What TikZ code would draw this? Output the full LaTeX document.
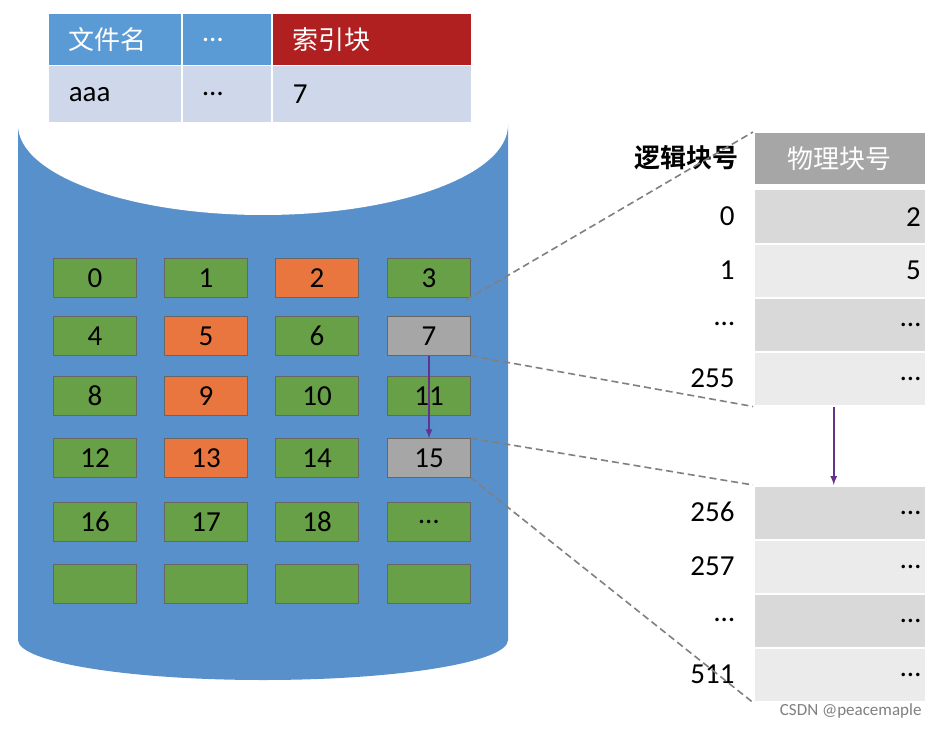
\documentclass[tikz,border=0pt]{standalone}
\usepackage{fontspec}
\setmainfont{Carlito}
\newfontfamily\cjk{Noto Sans CJK SC}
\newfontfamily\cjkb{Noto Sans CJK SC Bold}
\begin{document}
\begin{tikzpicture}[x=1pt,y=-1pt,
 hdr/.style={draw=white,line width=1.5pt,text=white,font=\cjk\fontsize{26}{26}\selectfont,anchor=north west,inner sep=0pt},
 cell/.style={draw=white,line width=1.5pt,font=\fontsize{29}{29}\selectfont,anchor=north west,inner sep=0pt},
 blk/.style={draw=black!60,line width=0.5pt,minimum width=83pt,minimum height=39pt,inner sep=0pt,font=\fontsize{29}{29}\selectfont},
 dl/.style={gray,line width=1.6pt,dash pattern=on 7pt off 4pt},
 pa/.style={-latex,draw={rgb,255:red,100;green,50;blue,140},line width=2pt}]
\definecolor{cyl}{RGB}{88,144,204}
\definecolor{gr}{RGB}{104,160,72}
\definecolor{orn}{RGB}{232,118,62}
\definecolor{gry}{RGB}{166,166,166}
\definecolor{hb}{RGB}{91,155,213}
\definecolor{hr}{RGB}{176,32,32}
\definecolor{rb}{RGB}{207,216,234}
\useasboundingbox[fill=white] (0,0) rectangle (939,730);
% cylinder
\fill[cyl] (18,125) -- (18,640) arc[start angle=180,end angle=0,x radius=245,y radius=40] -- (508,125) -- cycle;
\fill[white] (263,125) ellipse[x radius=245,y radius=90];
% top table
\node[hdr,fill=hb,minimum width=134pt,minimum height=52pt,text width=120pt,align=left] (h1) at (47,13) {\hspace*{14pt}文件名};
\node[hdr,fill=hb,minimum width=90pt,minimum height=52pt,text width=76pt,align=left,font=\fontsize{29}{29}\selectfont] (h2) at (181,13) {\hspace*{14pt}…};
\node[hdr,fill=hr,minimum width=200pt,minimum height=52pt,text width=186pt,align=left] (h3) at (271,13) {\hspace*{14pt}索引块};
\node[cell,fill=rb,minimum width=134pt,minimum height=57pt,text width=120pt,align=left] (r1) at (47,65) {\hspace*{14pt}aaa};
\node[cell,fill=rb,minimum width=90pt,minimum height=57pt,text width=76pt,align=left] (r2) at (181,65) {\hspace*{14pt}…};
\node[cell,fill=rb,minimum width=200pt,minimum height=57pt,text width=186pt,align=left] (r3) at (271,65) {\hspace*{14pt}7};
% blocks
\foreach \t/\c/\x/\y in {0/gr/95/278,1/gr/206/278,2/orn/317/278,3/gr/429/278,
 4/gr/95/336,5/orn/206/336,6/gr/317/336,7/gry/429/336,
 8/gr/95/396,9/orn/206/396,10/gr/317/396,11/gr/429/396,
 12/gr/95/458,13/orn/206/458,14/gr/317/458,15/gry/429/458,
 16/gr/95/522,17/gr/206/522,18/gr/317/522,{…}/gr/429/522,
 {}/gr/95/584,{}/gr/206/584,{}/gr/317/584,{}/gr/429/584}
 \node[blk,fill=\c] (b\x-\y) at (\x,\y) {\t};
% right table
\node[font=\cjkb\fontsize{26}{26}\selectfont,anchor=east] (lh) at (742,158) {逻辑块号};
\node[hdr,fill=gry,minimum width=172pt,minimum height=52pt] (ph) at (753,132) {物理块号};
\foreach \l/\v/\y/\c in {0/2/189/black!15,1/5/243/black!8,…/…/297/black!15,255/…/351/black!8,
 256/…/485/black!15,257/…/539/black!8,…/…/593/black!15,511/…/647/black!8}{
 \node[cell,fill=\c,minimum width=172pt,minimum height=54pt,text width=162pt,align=right] (p\y) at (753,\y) {\v};
 \node[font=\fontsize{29}{29}\selectfont,anchor=east] (l\y) at (738,\y+27) {\l};
}
% connectors
\coordinate (c7tr) at (466,300);
\draw[dl] (c7tr) -- (ph.north west);
\draw[dl] (b429-336.south east) -- (p351.south west);
\draw[dl] (b429-458.north east) -- (p485.north west);
\draw[dl] (b429-458.south east) -- (p647.south west);
\draw[pa] (b429-336.south) -- (b429-458.north);
\draw[pa] ([xshift=-6pt]p351.south) -- ([xshift=-6pt]p485.north);
\node[text=gray,font=\fontsize{17}{17}\selectfont,anchor=south east] (wm) at (925,722) {CSDN @peacemaple};
\end{tikzpicture}
\end{document}
